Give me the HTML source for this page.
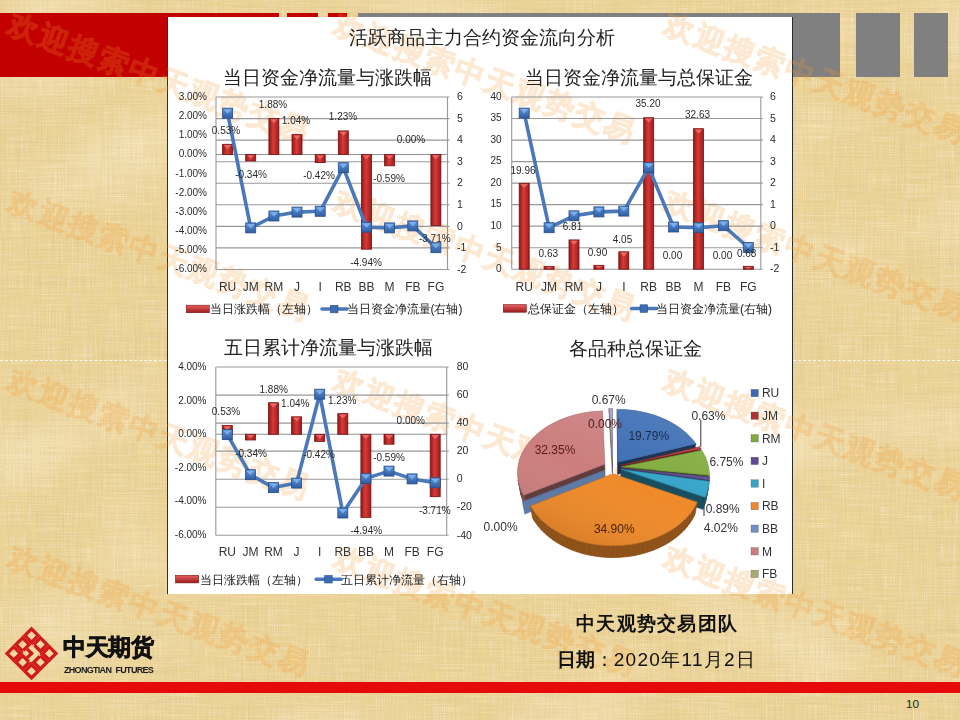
<!DOCTYPE html>
<html><head><meta charset="utf-8">
<style>
html,body{margin:0;padding:0;}
body{width:960px;height:720px;position:relative;overflow:hidden;background:#ebd295;font-family:"Liberation Sans",sans-serif;}
.abs{position:absolute;}
.red{background:#c20000;}
.gray{background:#808080;}
#panel{position:absolute;left:167px;top:17px;width:626px;height:577px;background:#fff;border-left:1px solid #3a2a22;border-right:1px solid #2a2a2a;box-sizing:border-box;}
.t{position:absolute;white-space:nowrap;color:#222;}
svg text{font-family:"Liberation Sans",sans-serif;}
</style></head><body>
<svg class="abs" style="left:0;top:0" width="960" height="720">
<filter id="tex" x="0" y="0" width="100%" height="100%">
<feTurbulence type="fractalNoise" baseFrequency="0.7 0.01" numOctaves="2" seed="3" result="v"/>
<feTurbulence type="fractalNoise" baseFrequency="0.01 0.7" numOctaves="2" seed="8" result="h"/>
<feComposite in="v" in2="h" operator="arithmetic" k2="0.5" k3="0.5" result="m"/>
<feColorMatrix in="m" type="matrix" values="0 0 0 0 0.66  0 0 0 0 0.52  0 0 0 0 0.26  1.5 0 0 0 -0.70"/>
</filter>
<filter id="texl" x="0" y="0" width="100%" height="100%">
<feTurbulence type="fractalNoise" baseFrequency="0.9 0.03" numOctaves="1" seed="21" result="v"/>
<feTurbulence type="fractalNoise" baseFrequency="0.03 0.9" numOctaves="1" seed="23" result="h"/>
<feComposite in="v" in2="h" operator="arithmetic" k2="0.5" k3="0.5" result="m"/>
<feColorMatrix in="m" type="matrix" values="0 0 0 0 1  0 0 0 0 0.96  0 0 0 0 0.82  1.6 0 0 0 -0.78"/>
</filter>
<filter id="tex2" x="0" y="0" width="100%" height="100%">
<feTurbulence type="fractalNoise" baseFrequency="0.006 0.01" numOctaves="2" seed="11" result="n"/>
<feColorMatrix in="n" type="matrix" values="0 0 0 0 1  0 0 0 0 0.95  0 0 0 0 0.8  1.0 0 0 0 -0.5"/>
</filter>
<rect width="960" height="720" filter="url(#tex2)"/>
<rect width="960" height="720" filter="url(#tex)"/>
<rect width="960" height="720" filter="url(#texl)"/>
</svg>
<div class="abs red" style="left:0;top:13px;width:279px;height:64px"></div>
<div class="abs red" style="left:287px;top:13px;width:31px;height:64px"></div>
<div class="abs red" style="left:328px;top:13px;width:19px;height:64px"></div>
<div class="abs gray" style="left:358px;top:13px;width:482px;height:64px"></div>
<div class="abs gray" style="left:856px;top:13px;width:44px;height:64px"></div>
<div class="abs gray" style="left:914px;top:13px;width:34px;height:64px"></div>
<div class="abs" style="left:0;top:360px;width:167px;border-top:1px dashed rgba(255,255,255,0.85)"></div>
<div class="abs" style="left:793px;top:360px;width:167px;border-top:1px dashed rgba(255,255,255,0.85)"></div>
<div class="abs" style="left:0;top:682px;width:960px;height:11px;background:#e60a0a"></div>
<div class="t" style="left:906px;top:696.5px;font-size:11.8px;color:#2a2218">10</div>

<div id="panel"></div>
<svg class="abs" style="left:0;top:0" width="960" height="720"><g opacity="0.22" fill="#f5982e" stroke="#f5982e" stroke-width="0.9" font-weight="bold">
<text x="9.0" y="38.4" transform="rotate(20.3 24 27)" font-size="30" letter-spacing="2">欢迎搜索中天观势交易</text>
<text x="335.0" y="38.4" transform="rotate(20.3 350 27)" font-size="30" letter-spacing="2">欢迎搜索中天观势交易</text>
<text x="665.0" y="38.4" transform="rotate(20.3 680 27)" font-size="30" letter-spacing="2">欢迎搜索中天观势交易</text>
<text x="9.0" y="215.4" transform="rotate(20.3 24 204)" font-size="30" letter-spacing="2">欢迎搜索中天观势交易</text>
<text x="335.0" y="215.4" transform="rotate(20.3 350 204)" font-size="30" letter-spacing="2">欢迎搜索中天观势交易</text>
<text x="665.0" y="215.4" transform="rotate(20.3 680 204)" font-size="30" letter-spacing="2">欢迎搜索中天观势交易</text>
<text x="9.0" y="394.4" transform="rotate(20.3 24 383)" font-size="30" letter-spacing="2">欢迎搜索中天观势交易</text>
<text x="335.0" y="394.4" transform="rotate(20.3 350 383)" font-size="30" letter-spacing="2">欢迎搜索中天观势交易</text>
<text x="665.0" y="394.4" transform="rotate(20.3 680 383)" font-size="30" letter-spacing="2">欢迎搜索中天观势交易</text>
<text x="9.0" y="571.4" transform="rotate(20.3 24 560)" font-size="30" letter-spacing="2">欢迎搜索中天观势交易</text>
<text x="335.0" y="571.4" transform="rotate(20.3 350 560)" font-size="30" letter-spacing="2">欢迎搜索中天观势交易</text>
<text x="665.0" y="571.4" transform="rotate(20.3 680 560)" font-size="30" letter-spacing="2">欢迎搜索中天观势交易</text>
</g></svg>
<svg class="abs" style="left:0;top:0" width="960" height="720" viewBox="0 0 960 720">
<defs>
<linearGradient id="gbar" x1="0" x2="1" y1="0" y2="0"><stop offset="0" stop-color="#8e1a1a"/><stop offset="0.45" stop-color="#d83a36"/><stop offset="1" stop-color="#9a1c1c"/></linearGradient>
<linearGradient id="gleg" x1="0" x2="0" y1="0" y2="1"><stop offset="0" stop-color="#e86060"/><stop offset="1" stop-color="#9a1c1c"/></linearGradient>
<linearGradient id="gmk" x1="0" x2="0" y1="0" y2="1"><stop offset="0" stop-color="#5a90d8"/><stop offset="1" stop-color="#2f5fa4"/></linearGradient>
</defs>
<line x1="216" y1="97.0" x2="449.5" y2="97.0" stroke="#989898" stroke-width="1.1"/>
<line x1="216" y1="118.6" x2="449.5" y2="118.6" stroke="#989898" stroke-width="1.1"/>
<line x1="216" y1="140.1" x2="449.5" y2="140.1" stroke="#989898" stroke-width="1.1"/>
<line x1="216" y1="161.7" x2="449.5" y2="161.7" stroke="#989898" stroke-width="1.1"/>
<line x1="216" y1="183.2" x2="449.5" y2="183.2" stroke="#989898" stroke-width="1.1"/>
<line x1="216" y1="204.8" x2="449.5" y2="204.8" stroke="#989898" stroke-width="1.1"/>
<line x1="216" y1="226.4" x2="449.5" y2="226.4" stroke="#989898" stroke-width="1.1"/>
<line x1="216" y1="247.9" x2="449.5" y2="247.9" stroke="#989898" stroke-width="1.1"/>
<line x1="216" y1="269.5" x2="449.5" y2="269.5" stroke="#989898" stroke-width="1.1"/>
<line x1="216" y1="97" x2="216" y2="269.5" stroke="#989898" stroke-width="1.1"/>
<line x1="447.5" y1="97" x2="447.5" y2="269.5" stroke="#989898" stroke-width="1.1"/>
<text x="207.0" y="99.8" font-size="10" text-anchor="end" fill="#2a2a2a" font-weight="normal" >3.00%</text>
<text x="207.0" y="119.0" font-size="10" text-anchor="end" fill="#2a2a2a" font-weight="normal" >2.00%</text>
<text x="207.0" y="138.1" font-size="10" text-anchor="end" fill="#2a2a2a" font-weight="normal" >1.00%</text>
<text x="207.0" y="157.3" font-size="10" text-anchor="end" fill="#2a2a2a" font-weight="normal" >0.00%</text>
<text x="207.0" y="176.5" font-size="10" text-anchor="end" fill="#2a2a2a" font-weight="normal" >-1.00%</text>
<text x="207.0" y="195.6" font-size="10" text-anchor="end" fill="#2a2a2a" font-weight="normal" >-2.00%</text>
<text x="207.0" y="214.8" font-size="10" text-anchor="end" fill="#2a2a2a" font-weight="normal" >-3.00%</text>
<text x="207.0" y="234.0" font-size="10" text-anchor="end" fill="#2a2a2a" font-weight="normal" >-4.00%</text>
<text x="207.0" y="253.1" font-size="10" text-anchor="end" fill="#2a2a2a" font-weight="normal" >-5.00%</text>
<text x="207.0" y="272.3" font-size="10" text-anchor="end" fill="#2a2a2a" font-weight="normal" >-6.00%</text>
<text x="457.0" y="100.2" font-size="10.5" text-anchor="start" fill="#2a2a2a" font-weight="normal" >6</text>
<text x="457.0" y="121.8" font-size="10.5" text-anchor="start" fill="#2a2a2a" font-weight="normal" >5</text>
<text x="457.0" y="143.3" font-size="10.5" text-anchor="start" fill="#2a2a2a" font-weight="normal" >4</text>
<text x="457.0" y="164.9" font-size="10.5" text-anchor="start" fill="#2a2a2a" font-weight="normal" >3</text>
<text x="457.0" y="186.4" font-size="10.5" text-anchor="start" fill="#2a2a2a" font-weight="normal" >2</text>
<text x="457.0" y="208.0" font-size="10.5" text-anchor="start" fill="#2a2a2a" font-weight="normal" >1</text>
<text x="457.0" y="229.6" font-size="10.5" text-anchor="start" fill="#2a2a2a" font-weight="normal" >0</text>
<text x="457.0" y="251.1" font-size="10.5" text-anchor="start" fill="#2a2a2a" font-weight="normal" >-1</text>
<text x="457.0" y="272.7" font-size="10.5" text-anchor="start" fill="#2a2a2a" font-weight="normal" >-2</text>
<line x1="216" y1="154.5" x2="447.5" y2="154.5" stroke="#909090" stroke-width="1.1"/>
<rect x="222.6" y="144.3" width="10" height="10.2" fill="url(#gbar)" stroke="#7a1010" stroke-width="0.8"/>
<path d="M223.6 145.1 L231.6 145.1 L227.6 149.1Z" fill="#f07070" opacity="0.85"/>
<rect x="245.7" y="154.5" width="10" height="6.5" fill="url(#gbar)" stroke="#7a1010" stroke-width="0.8"/>
<path d="M246.7 155.3 L254.7 155.3 L250.7 158.6Z" fill="#f07070" opacity="0.85"/>
<rect x="268.9" y="118.5" width="10" height="36.0" fill="url(#gbar)" stroke="#7a1010" stroke-width="0.8"/>
<path d="M269.9 119.3 L277.9 119.3 L273.9 123.3Z" fill="#f07070" opacity="0.85"/>
<rect x="292.0" y="134.6" width="10" height="19.9" fill="url(#gbar)" stroke="#7a1010" stroke-width="0.8"/>
<path d="M293.0 135.4 L301.0 135.4 L297.0 139.4Z" fill="#f07070" opacity="0.85"/>
<rect x="315.2" y="154.5" width="10" height="8.1" fill="url(#gbar)" stroke="#7a1010" stroke-width="0.8"/>
<path d="M316.2 155.3 L324.2 155.3 L320.2 159.3Z" fill="#f07070" opacity="0.85"/>
<rect x="338.3" y="130.9" width="10" height="23.6" fill="url(#gbar)" stroke="#7a1010" stroke-width="0.8"/>
<path d="M339.3 131.7 L347.3 131.7 L343.3 135.7Z" fill="#f07070" opacity="0.85"/>
<rect x="361.5" y="154.5" width="10" height="94.7" fill="url(#gbar)" stroke="#7a1010" stroke-width="0.8"/>
<path d="M362.5 155.3 L370.5 155.3 L366.5 159.3Z" fill="#f07070" opacity="0.85"/>
<rect x="384.6" y="154.5" width="10" height="11.3" fill="url(#gbar)" stroke="#7a1010" stroke-width="0.8"/>
<path d="M385.6 155.3 L393.6 155.3 L389.6 159.3Z" fill="#f07070" opacity="0.85"/>
<rect x="430.9" y="154.5" width="10" height="71.1" fill="url(#gbar)" stroke="#7a1010" stroke-width="0.8"/>
<path d="M431.9 155.3 L439.9 155.3 L435.9 159.3Z" fill="#f07070" opacity="0.85"/>
<path d="M227.6 113.2 L250.7 227.9 L273.9 216.0 L297.0 212.1 L320.2 211.3 L343.3 167.7 L366.5 227.2 L389.6 227.9 L412.8 225.9 L435.9 247.7" fill="none" stroke="#4a78b8" stroke-width="3.6" stroke-linejoin="round"/>
<rect x="222.6" y="108.2" width="10" height="10" fill="url(#gmk)" stroke="#284c84" stroke-width="0.8"/>
<path d="M223.6 109.2 L231.6 109.2 L227.6 113.7Z" fill="#7fb2ee" opacity="0.9"/>
<rect x="245.7" y="222.9" width="10" height="10" fill="url(#gmk)" stroke="#284c84" stroke-width="0.8"/>
<path d="M246.7 223.9 L254.7 223.9 L250.7 228.4Z" fill="#7fb2ee" opacity="0.9"/>
<rect x="268.9" y="211.0" width="10" height="10" fill="url(#gmk)" stroke="#284c84" stroke-width="0.8"/>
<path d="M269.9 212.0 L277.9 212.0 L273.9 216.5Z" fill="#7fb2ee" opacity="0.9"/>
<rect x="292.0" y="207.1" width="10" height="10" fill="url(#gmk)" stroke="#284c84" stroke-width="0.8"/>
<path d="M293.0 208.1 L301.0 208.1 L297.0 212.6Z" fill="#7fb2ee" opacity="0.9"/>
<rect x="315.2" y="206.3" width="10" height="10" fill="url(#gmk)" stroke="#284c84" stroke-width="0.8"/>
<path d="M316.2 207.3 L324.2 207.3 L320.2 211.8Z" fill="#7fb2ee" opacity="0.9"/>
<rect x="338.3" y="162.7" width="10" height="10" fill="url(#gmk)" stroke="#284c84" stroke-width="0.8"/>
<path d="M339.3 163.7 L347.3 163.7 L343.3 168.2Z" fill="#7fb2ee" opacity="0.9"/>
<rect x="361.5" y="222.2" width="10" height="10" fill="url(#gmk)" stroke="#284c84" stroke-width="0.8"/>
<path d="M362.5 223.2 L370.5 223.2 L366.5 227.7Z" fill="#7fb2ee" opacity="0.9"/>
<rect x="384.6" y="222.9" width="10" height="10" fill="url(#gmk)" stroke="#284c84" stroke-width="0.8"/>
<path d="M385.6 223.9 L393.6 223.9 L389.6 228.4Z" fill="#7fb2ee" opacity="0.9"/>
<rect x="407.8" y="220.9" width="10" height="10" fill="url(#gmk)" stroke="#284c84" stroke-width="0.8"/>
<path d="M408.8 221.9 L416.8 221.9 L412.8 226.4Z" fill="#7fb2ee" opacity="0.9"/>
<rect x="430.9" y="242.7" width="10" height="10" fill="url(#gmk)" stroke="#284c84" stroke-width="0.8"/>
<path d="M431.9 243.7 L439.9 243.7 L435.9 248.2Z" fill="#7fb2ee" opacity="0.9"/>
<text x="227.6" y="290.6" font-size="12" text-anchor="middle" fill="#333" font-weight="normal" >RU</text>
<text x="250.7" y="290.6" font-size="12" text-anchor="middle" fill="#333" font-weight="normal" >JM</text>
<text x="273.9" y="290.6" font-size="12" text-anchor="middle" fill="#333" font-weight="normal" >RM</text>
<text x="297.0" y="290.6" font-size="12" text-anchor="middle" fill="#333" font-weight="normal" >J</text>
<text x="320.2" y="290.6" font-size="12" text-anchor="middle" fill="#333" font-weight="normal" >I</text>
<text x="343.3" y="290.6" font-size="12" text-anchor="middle" fill="#333" font-weight="normal" >RB</text>
<text x="366.5" y="290.6" font-size="12" text-anchor="middle" fill="#333" font-weight="normal" >BB</text>
<text x="389.6" y="290.6" font-size="12" text-anchor="middle" fill="#333" font-weight="normal" >M</text>
<text x="412.8" y="290.6" font-size="12" text-anchor="middle" fill="#333" font-weight="normal" >FB</text>
<text x="435.9" y="290.6" font-size="12" text-anchor="middle" fill="#333" font-weight="normal" >FG</text>
<text x="226.0" y="134.2" font-size="10" text-anchor="middle" fill="#2a2a2a" font-weight="normal" >0.53%</text>
<text x="251.0" y="178.2" font-size="10" text-anchor="middle" fill="#2a2a2a" font-weight="normal" >-0.34%</text>
<text x="273.0" y="107.7" font-size="10" text-anchor="middle" fill="#2a2a2a" font-weight="normal" >1.88%</text>
<text x="296.0" y="124.2" font-size="10" text-anchor="middle" fill="#2a2a2a" font-weight="normal" >1.04%</text>
<text x="319.0" y="178.9" font-size="10" text-anchor="middle" fill="#2a2a2a" font-weight="normal" >-0.42%</text>
<text x="343.0" y="120.2" font-size="10" text-anchor="middle" fill="#2a2a2a" font-weight="normal" >1.23%</text>
<text x="366.0" y="266.0" font-size="10" text-anchor="middle" fill="#2a2a2a" font-weight="normal" >-4.94%</text>
<text x="389.0" y="182.2" font-size="10" text-anchor="middle" fill="#2a2a2a" font-weight="normal" >-0.59%</text>
<text x="411.0" y="143.2" font-size="10" text-anchor="middle" fill="#2a2a2a" font-weight="normal" >0.00%</text>
<text x="434.8" y="242.2" font-size="10" text-anchor="middle" fill="#2a2a2a" font-weight="normal" >-3.71%</text>
<rect x="186.3" y="305.2" width="23" height="7.5" fill="url(#gleg)" stroke="#7a1010" stroke-width="0.6"/>
<line x1="322" y1="309.0" x2="347" y2="309.0" stroke="#4a78b8" stroke-width="3.6" stroke-linecap="round"/>
<rect x="330.5" y="305.3" width="7.5" height="7.5" fill="#3d6cb5" stroke="#284c84" stroke-width="0.6"/>
<text x="210.3" y="313.3" font-size="12" text-anchor="start" fill="#222" font-weight="500" >当日涨跌幅（左轴）</text>
<text x="346.5" y="313.3" font-size="12" text-anchor="start" fill="#222" font-weight="500" >当日资金净流量(右轴)</text>
<line x1="511.7" y1="97.0" x2="762.8" y2="97.0" stroke="#989898" stroke-width="1.1"/>
<line x1="511.7" y1="118.5" x2="762.8" y2="118.5" stroke="#989898" stroke-width="1.1"/>
<line x1="511.7" y1="140.1" x2="762.8" y2="140.1" stroke="#989898" stroke-width="1.1"/>
<line x1="511.7" y1="161.6" x2="762.8" y2="161.6" stroke="#989898" stroke-width="1.1"/>
<line x1="511.7" y1="183.1" x2="762.8" y2="183.1" stroke="#989898" stroke-width="1.1"/>
<line x1="511.7" y1="204.6" x2="762.8" y2="204.6" stroke="#989898" stroke-width="1.1"/>
<line x1="511.7" y1="226.1" x2="762.8" y2="226.1" stroke="#989898" stroke-width="1.1"/>
<line x1="511.7" y1="247.7" x2="762.8" y2="247.7" stroke="#989898" stroke-width="1.1"/>
<line x1="511.7" y1="269.2" x2="762.8" y2="269.2" stroke="#989898" stroke-width="1.1"/>
<line x1="511.7" y1="97" x2="511.7" y2="269.2" stroke="#989898" stroke-width="1.1"/>
<line x1="760.8" y1="97" x2="760.8" y2="269.2" stroke="#989898" stroke-width="1.1"/>
<text x="501.5" y="99.8" font-size="10" text-anchor="end" fill="#2a2a2a" font-weight="normal" >40</text>
<text x="501.5" y="121.3" font-size="10" text-anchor="end" fill="#2a2a2a" font-weight="normal" >35</text>
<text x="501.5" y="142.9" font-size="10" text-anchor="end" fill="#2a2a2a" font-weight="normal" >30</text>
<text x="501.5" y="164.4" font-size="10" text-anchor="end" fill="#2a2a2a" font-weight="normal" >25</text>
<text x="501.5" y="185.9" font-size="10" text-anchor="end" fill="#2a2a2a" font-weight="normal" >20</text>
<text x="501.5" y="207.4" font-size="10" text-anchor="end" fill="#2a2a2a" font-weight="normal" >15</text>
<text x="501.5" y="228.9" font-size="10" text-anchor="end" fill="#2a2a2a" font-weight="normal" >10</text>
<text x="501.5" y="250.5" font-size="10" text-anchor="end" fill="#2a2a2a" font-weight="normal" >5</text>
<text x="501.5" y="272.0" font-size="10" text-anchor="end" fill="#2a2a2a" font-weight="normal" >0</text>
<text x="770.0" y="100.2" font-size="10.5" text-anchor="start" fill="#2a2a2a" font-weight="normal" >6</text>
<text x="770.0" y="121.7" font-size="10.5" text-anchor="start" fill="#2a2a2a" font-weight="normal" >5</text>
<text x="770.0" y="143.2" font-size="10.5" text-anchor="start" fill="#2a2a2a" font-weight="normal" >4</text>
<text x="770.0" y="164.8" font-size="10.5" text-anchor="start" fill="#2a2a2a" font-weight="normal" >3</text>
<text x="770.0" y="186.3" font-size="10.5" text-anchor="start" fill="#2a2a2a" font-weight="normal" >2</text>
<text x="770.0" y="207.8" font-size="10.5" text-anchor="start" fill="#2a2a2a" font-weight="normal" >1</text>
<text x="770.0" y="229.3" font-size="10.5" text-anchor="start" fill="#2a2a2a" font-weight="normal" >0</text>
<text x="770.0" y="250.9" font-size="10.5" text-anchor="start" fill="#2a2a2a" font-weight="normal" >-1</text>
<text x="770.0" y="272.4" font-size="10.5" text-anchor="start" fill="#2a2a2a" font-weight="normal" >-2</text>
<rect x="519.2" y="183.3" width="10" height="85.9" fill="url(#gbar)" stroke="#7a1010" stroke-width="0.8"/>
<path d="M520.2 184.1 L528.2 184.1 L524.2 188.1Z" fill="#f07070" opacity="0.85"/>
<rect x="544.1" y="266.5" width="10" height="2.7" fill="url(#gbar)" stroke="#7a1010" stroke-width="0.8"/>
<path d="M545.1 267.3 L553.1 267.3 L549.1 268.6Z" fill="#f07070" opacity="0.85"/>
<rect x="569.0" y="239.9" width="10" height="29.3" fill="url(#gbar)" stroke="#7a1010" stroke-width="0.8"/>
<path d="M570.0 240.7 L578.0 240.7 L574.0 244.7Z" fill="#f07070" opacity="0.85"/>
<rect x="593.9" y="265.3" width="10" height="3.9" fill="url(#gbar)" stroke="#7a1010" stroke-width="0.8"/>
<path d="M594.9 266.1 L602.9 266.1 L598.9 268.1Z" fill="#f07070" opacity="0.85"/>
<rect x="618.8" y="251.8" width="10" height="17.4" fill="url(#gbar)" stroke="#7a1010" stroke-width="0.8"/>
<path d="M619.8 252.6 L627.8 252.6 L623.8 256.6Z" fill="#f07070" opacity="0.85"/>
<rect x="643.7" y="117.7" width="10" height="151.5" fill="url(#gbar)" stroke="#7a1010" stroke-width="0.8"/>
<path d="M644.7 118.5 L652.7 118.5 L648.7 122.5Z" fill="#f07070" opacity="0.85"/>
<rect x="693.5" y="128.7" width="10" height="140.5" fill="url(#gbar)" stroke="#7a1010" stroke-width="0.8"/>
<path d="M694.5 129.5 L702.5 129.5 L698.5 133.5Z" fill="#f07070" opacity="0.85"/>
<rect x="743.3" y="266.3" width="10" height="2.9" fill="url(#gbar)" stroke="#7a1010" stroke-width="0.8"/>
<path d="M744.3 267.1 L752.3 267.1 L748.3 268.5Z" fill="#f07070" opacity="0.85"/>
<path d="M524.2 113.1 L549.1 227.7 L574.0 215.8 L598.9 211.9 L623.8 211.1 L648.7 167.6 L673.6 227.0 L698.5 227.7 L723.4 225.7 L748.3 247.5" fill="none" stroke="#4a78b8" stroke-width="3.6" stroke-linejoin="round"/>
<rect x="519.2" y="108.1" width="10" height="10" fill="url(#gmk)" stroke="#284c84" stroke-width="0.8"/>
<path d="M520.2 109.1 L528.2 109.1 L524.2 113.6Z" fill="#7fb2ee" opacity="0.9"/>
<rect x="544.1" y="222.7" width="10" height="10" fill="url(#gmk)" stroke="#284c84" stroke-width="0.8"/>
<path d="M545.1 223.7 L553.1 223.7 L549.1 228.2Z" fill="#7fb2ee" opacity="0.9"/>
<rect x="569.0" y="210.8" width="10" height="10" fill="url(#gmk)" stroke="#284c84" stroke-width="0.8"/>
<path d="M570.0 211.8 L578.0 211.8 L574.0 216.3Z" fill="#7fb2ee" opacity="0.9"/>
<rect x="593.9" y="206.9" width="10" height="10" fill="url(#gmk)" stroke="#284c84" stroke-width="0.8"/>
<path d="M594.9 207.9 L602.9 207.9 L598.9 212.4Z" fill="#7fb2ee" opacity="0.9"/>
<rect x="618.8" y="206.1" width="10" height="10" fill="url(#gmk)" stroke="#284c84" stroke-width="0.8"/>
<path d="M619.8 207.1 L627.8 207.1 L623.8 211.6Z" fill="#7fb2ee" opacity="0.9"/>
<rect x="643.7" y="162.6" width="10" height="10" fill="url(#gmk)" stroke="#284c84" stroke-width="0.8"/>
<path d="M644.7 163.6 L652.7 163.6 L648.7 168.1Z" fill="#7fb2ee" opacity="0.9"/>
<rect x="668.6" y="222.0" width="10" height="10" fill="url(#gmk)" stroke="#284c84" stroke-width="0.8"/>
<path d="M669.6 223.0 L677.6 223.0 L673.6 227.5Z" fill="#7fb2ee" opacity="0.9"/>
<rect x="693.5" y="222.7" width="10" height="10" fill="url(#gmk)" stroke="#284c84" stroke-width="0.8"/>
<path d="M694.5 223.7 L702.5 223.7 L698.5 228.2Z" fill="#7fb2ee" opacity="0.9"/>
<rect x="718.4" y="220.7" width="10" height="10" fill="url(#gmk)" stroke="#284c84" stroke-width="0.8"/>
<path d="M719.4 221.7 L727.4 221.7 L723.4 226.2Z" fill="#7fb2ee" opacity="0.9"/>
<rect x="743.3" y="242.5" width="10" height="10" fill="url(#gmk)" stroke="#284c84" stroke-width="0.8"/>
<path d="M744.3 243.5 L752.3 243.5 L748.3 248.0Z" fill="#7fb2ee" opacity="0.9"/>
<text x="524.2" y="290.7" font-size="12" text-anchor="middle" fill="#333" font-weight="normal" >RU</text>
<text x="549.1" y="290.7" font-size="12" text-anchor="middle" fill="#333" font-weight="normal" >JM</text>
<text x="574.0" y="290.7" font-size="12" text-anchor="middle" fill="#333" font-weight="normal" >RM</text>
<text x="598.9" y="290.7" font-size="12" text-anchor="middle" fill="#333" font-weight="normal" >J</text>
<text x="623.8" y="290.7" font-size="12" text-anchor="middle" fill="#333" font-weight="normal" >I</text>
<text x="648.7" y="290.7" font-size="12" text-anchor="middle" fill="#333" font-weight="normal" >RB</text>
<text x="673.6" y="290.7" font-size="12" text-anchor="middle" fill="#333" font-weight="normal" >BB</text>
<text x="698.5" y="290.7" font-size="12" text-anchor="middle" fill="#333" font-weight="normal" >M</text>
<text x="723.4" y="290.7" font-size="12" text-anchor="middle" fill="#333" font-weight="normal" >FB</text>
<text x="748.3" y="290.7" font-size="12" text-anchor="middle" fill="#333" font-weight="normal" >FG</text>
<text x="523.0" y="173.5" font-size="10" text-anchor="middle" fill="#2a2a2a" font-weight="normal" >19.96</text>
<text x="548.3" y="256.9" font-size="10" text-anchor="middle" fill="#2a2a2a" font-weight="normal" >0.63</text>
<text x="572.5" y="229.9" font-size="10" text-anchor="middle" fill="#2a2a2a" font-weight="normal" >6.81</text>
<text x="597.5" y="255.7" font-size="10" text-anchor="middle" fill="#2a2a2a" font-weight="normal" >0.90</text>
<text x="622.5" y="242.7" font-size="10" text-anchor="middle" fill="#2a2a2a" font-weight="normal" >4.05</text>
<text x="648.0" y="107.2" font-size="10" text-anchor="middle" fill="#2a2a2a" font-weight="normal" >35.20</text>
<text x="672.5" y="259.0" font-size="10" text-anchor="middle" fill="#2a2a2a" font-weight="normal" >0.00</text>
<text x="697.5" y="117.9" font-size="10" text-anchor="middle" fill="#2a2a2a" font-weight="normal" >32.63</text>
<text x="722.5" y="259.0" font-size="10" text-anchor="middle" fill="#2a2a2a" font-weight="normal" >0.00</text>
<text x="746.7" y="256.9" font-size="10" text-anchor="middle" fill="#2a2a2a" font-weight="normal" >0.68</text>
<rect x="503.3" y="304.7" width="23" height="7.5" fill="url(#gleg)" stroke="#7a1010" stroke-width="0.6"/>
<line x1="631.6" y1="308.5" x2="656.6" y2="308.5" stroke="#4a78b8" stroke-width="3.6" stroke-linecap="round"/>
<rect x="640.1" y="304.8" width="7.5" height="7.5" fill="#3d6cb5" stroke="#284c84" stroke-width="0.6"/>
<text x="527.7" y="312.8" font-size="12" text-anchor="start" fill="#222" font-weight="500" >总保证金（左轴）</text>
<text x="656.1" y="312.8" font-size="12" text-anchor="start" fill="#222" font-weight="500" >当日资金净流量(右轴)</text>
<line x1="215.8" y1="367.0" x2="448.7" y2="367.0" stroke="#989898" stroke-width="1.1"/>
<line x1="215.8" y1="395.1" x2="448.7" y2="395.1" stroke="#989898" stroke-width="1.1"/>
<line x1="215.8" y1="423.1" x2="448.7" y2="423.1" stroke="#989898" stroke-width="1.1"/>
<line x1="215.8" y1="451.1" x2="448.7" y2="451.1" stroke="#989898" stroke-width="1.1"/>
<line x1="215.8" y1="479.2" x2="448.7" y2="479.2" stroke="#989898" stroke-width="1.1"/>
<line x1="215.8" y1="507.2" x2="448.7" y2="507.2" stroke="#989898" stroke-width="1.1"/>
<line x1="215.8" y1="535.3" x2="448.7" y2="535.3" stroke="#989898" stroke-width="1.1"/>
<line x1="215.8" y1="367" x2="215.8" y2="535.3" stroke="#989898" stroke-width="1.1"/>
<line x1="446.7" y1="367" x2="446.7" y2="535.3" stroke="#989898" stroke-width="1.1"/>
<text x="206.5" y="369.8" font-size="10" text-anchor="end" fill="#2a2a2a" font-weight="normal" >4.00%</text>
<text x="206.5" y="403.5" font-size="10" text-anchor="end" fill="#2a2a2a" font-weight="normal" >2.00%</text>
<text x="206.5" y="437.1" font-size="10" text-anchor="end" fill="#2a2a2a" font-weight="normal" >0.00%</text>
<text x="206.5" y="470.8" font-size="10" text-anchor="end" fill="#2a2a2a" font-weight="normal" >-2.00%</text>
<text x="206.5" y="504.4" font-size="10" text-anchor="end" fill="#2a2a2a" font-weight="normal" >-4.00%</text>
<text x="206.5" y="538.1" font-size="10" text-anchor="end" fill="#2a2a2a" font-weight="normal" >-6.00%</text>
<text x="456.7" y="370.2" font-size="10.5" text-anchor="start" fill="#2a2a2a" font-weight="normal" >80</text>
<text x="456.7" y="398.2" font-size="10.5" text-anchor="start" fill="#2a2a2a" font-weight="normal" >60</text>
<text x="456.7" y="426.3" font-size="10.5" text-anchor="start" fill="#2a2a2a" font-weight="normal" >40</text>
<text x="456.7" y="454.3" font-size="10.5" text-anchor="start" fill="#2a2a2a" font-weight="normal" >20</text>
<text x="456.7" y="482.4" font-size="10.5" text-anchor="start" fill="#2a2a2a" font-weight="normal" >0</text>
<text x="456.7" y="510.4" font-size="10.5" text-anchor="start" fill="#2a2a2a" font-weight="normal" >-20</text>
<text x="456.7" y="538.5" font-size="10.5" text-anchor="start" fill="#2a2a2a" font-weight="normal" >-40</text>
<line x1="215.8" y1="434.3" x2="446.7" y2="434.3" stroke="#909090" stroke-width="1.1"/>
<rect x="222.3" y="425.4" width="10" height="8.9" fill="url(#gbar)" stroke="#7a1010" stroke-width="0.8"/>
<path d="M223.3 426.2 L231.3 426.2 L227.3 430.2Z" fill="#f07070" opacity="0.85"/>
<rect x="245.4" y="434.3" width="10" height="5.7" fill="url(#gbar)" stroke="#7a1010" stroke-width="0.8"/>
<path d="M246.4 435.1 L254.4 435.1 L250.4 438.0Z" fill="#f07070" opacity="0.85"/>
<rect x="268.5" y="402.7" width="10" height="31.6" fill="url(#gbar)" stroke="#7a1010" stroke-width="0.8"/>
<path d="M269.5 403.5 L277.5 403.5 L273.5 407.5Z" fill="#f07070" opacity="0.85"/>
<rect x="291.6" y="416.8" width="10" height="17.5" fill="url(#gbar)" stroke="#7a1010" stroke-width="0.8"/>
<path d="M292.6 417.6 L300.6 417.6 L296.6 421.6Z" fill="#f07070" opacity="0.85"/>
<rect x="314.7" y="434.3" width="10" height="7.1" fill="url(#gbar)" stroke="#7a1010" stroke-width="0.8"/>
<path d="M315.7 435.1 L323.7 435.1 L319.7 438.7Z" fill="#f07070" opacity="0.85"/>
<rect x="337.8" y="413.6" width="10" height="20.7" fill="url(#gbar)" stroke="#7a1010" stroke-width="0.8"/>
<path d="M338.8 414.4 L346.8 414.4 L342.8 418.4Z" fill="#f07070" opacity="0.85"/>
<rect x="360.9" y="434.3" width="10" height="83.1" fill="url(#gbar)" stroke="#7a1010" stroke-width="0.8"/>
<path d="M361.9 435.1 L369.9 435.1 L365.9 439.1Z" fill="#f07070" opacity="0.85"/>
<rect x="384.0" y="434.3" width="10" height="9.9" fill="url(#gbar)" stroke="#7a1010" stroke-width="0.8"/>
<path d="M385.0 435.1 L393.0 435.1 L389.0 439.1Z" fill="#f07070" opacity="0.85"/>
<rect x="430.2" y="434.3" width="10" height="62.4" fill="url(#gbar)" stroke="#7a1010" stroke-width="0.8"/>
<path d="M431.2 435.1 L439.2 435.1 L435.2 439.1Z" fill="#f07070" opacity="0.85"/>
<path d="M227.3 434.6 L250.4 474.7 L273.5 487.6 L296.6 483.1 L319.7 394.2 L342.8 513.0 L365.9 478.4 L389.0 471.1 L412.1 478.9 L435.2 482.8" fill="none" stroke="#4a78b8" stroke-width="3.6" stroke-linejoin="round"/>
<rect x="222.3" y="429.6" width="10" height="10" fill="url(#gmk)" stroke="#284c84" stroke-width="0.8"/>
<path d="M223.3 430.6 L231.3 430.6 L227.3 435.1Z" fill="#7fb2ee" opacity="0.9"/>
<rect x="245.4" y="469.7" width="10" height="10" fill="url(#gmk)" stroke="#284c84" stroke-width="0.8"/>
<path d="M246.4 470.7 L254.4 470.7 L250.4 475.2Z" fill="#7fb2ee" opacity="0.9"/>
<rect x="268.5" y="482.6" width="10" height="10" fill="url(#gmk)" stroke="#284c84" stroke-width="0.8"/>
<path d="M269.5 483.6 L277.5 483.6 L273.5 488.1Z" fill="#7fb2ee" opacity="0.9"/>
<rect x="291.6" y="478.1" width="10" height="10" fill="url(#gmk)" stroke="#284c84" stroke-width="0.8"/>
<path d="M292.6 479.1 L300.6 479.1 L296.6 483.6Z" fill="#7fb2ee" opacity="0.9"/>
<rect x="314.7" y="389.2" width="10" height="10" fill="url(#gmk)" stroke="#284c84" stroke-width="0.8"/>
<path d="M315.7 390.2 L323.7 390.2 L319.7 394.7Z" fill="#7fb2ee" opacity="0.9"/>
<rect x="337.8" y="508.0" width="10" height="10" fill="url(#gmk)" stroke="#284c84" stroke-width="0.8"/>
<path d="M338.8 509.0 L346.8 509.0 L342.8 513.5Z" fill="#7fb2ee" opacity="0.9"/>
<rect x="360.9" y="473.4" width="10" height="10" fill="url(#gmk)" stroke="#284c84" stroke-width="0.8"/>
<path d="M361.9 474.4 L369.9 474.4 L365.9 478.9Z" fill="#7fb2ee" opacity="0.9"/>
<rect x="384.0" y="466.1" width="10" height="10" fill="url(#gmk)" stroke="#284c84" stroke-width="0.8"/>
<path d="M385.0 467.1 L393.0 467.1 L389.0 471.6Z" fill="#7fb2ee" opacity="0.9"/>
<rect x="407.1" y="473.9" width="10" height="10" fill="url(#gmk)" stroke="#284c84" stroke-width="0.8"/>
<path d="M408.1 474.9 L416.1 474.9 L412.1 479.4Z" fill="#7fb2ee" opacity="0.9"/>
<rect x="430.2" y="477.8" width="10" height="10" fill="url(#gmk)" stroke="#284c84" stroke-width="0.8"/>
<path d="M431.2 478.8 L439.2 478.8 L435.2 483.3Z" fill="#7fb2ee" opacity="0.9"/>
<text x="227.3" y="556.2" font-size="12" text-anchor="middle" fill="#333" font-weight="normal" >RU</text>
<text x="250.4" y="556.2" font-size="12" text-anchor="middle" fill="#333" font-weight="normal" >JM</text>
<text x="273.5" y="556.2" font-size="12" text-anchor="middle" fill="#333" font-weight="normal" >RM</text>
<text x="296.6" y="556.2" font-size="12" text-anchor="middle" fill="#333" font-weight="normal" >J</text>
<text x="319.7" y="556.2" font-size="12" text-anchor="middle" fill="#333" font-weight="normal" >I</text>
<text x="342.8" y="556.2" font-size="12" text-anchor="middle" fill="#333" font-weight="normal" >RB</text>
<text x="365.9" y="556.2" font-size="12" text-anchor="middle" fill="#333" font-weight="normal" >BB</text>
<text x="389.0" y="556.2" font-size="12" text-anchor="middle" fill="#333" font-weight="normal" >M</text>
<text x="412.1" y="556.2" font-size="12" text-anchor="middle" fill="#333" font-weight="normal" >FB</text>
<text x="435.2" y="556.2" font-size="12" text-anchor="middle" fill="#333" font-weight="normal" >FG</text>
<text x="226.0" y="415.4" font-size="10" text-anchor="middle" fill="#2a2a2a" font-weight="normal" >0.53%</text>
<text x="251.0" y="457.2" font-size="10" text-anchor="middle" fill="#2a2a2a" font-weight="normal" >-0.34%</text>
<text x="273.7" y="392.7" font-size="10" text-anchor="middle" fill="#2a2a2a" font-weight="normal" >1.88%</text>
<text x="295.3" y="406.5" font-size="10" text-anchor="middle" fill="#2a2a2a" font-weight="normal" >1.04%</text>
<text x="319.0" y="458.2" font-size="10" text-anchor="middle" fill="#2a2a2a" font-weight="normal" >-0.42%</text>
<text x="342.2" y="403.5" font-size="10" text-anchor="middle" fill="#2a2a2a" font-weight="normal" >1.23%</text>
<text x="366.3" y="534.2" font-size="10" text-anchor="middle" fill="#2a2a2a" font-weight="normal" >-4.94%</text>
<text x="389.0" y="460.7" font-size="10" text-anchor="middle" fill="#2a2a2a" font-weight="normal" >-0.59%</text>
<text x="410.8" y="424.0" font-size="10" text-anchor="middle" fill="#2a2a2a" font-weight="normal" >0.00%</text>
<text x="434.8" y="514.2" font-size="10" text-anchor="middle" fill="#2a2a2a" font-weight="normal" >-3.71%</text>
<rect x="175.6" y="575.4" width="23" height="7.5" fill="url(#gleg)" stroke="#7a1010" stroke-width="0.6"/>
<line x1="316.2" y1="579.2" x2="341.2" y2="579.2" stroke="#4a78b8" stroke-width="3.6" stroke-linecap="round"/>
<rect x="324.7" y="575.5" width="7.5" height="7.5" fill="#3d6cb5" stroke="#284c84" stroke-width="0.6"/>
<text x="200.3" y="583.5" font-size="12" text-anchor="start" fill="#222" font-weight="500" >当日涨跌幅（左轴）</text>
<text x="340.7" y="583.5" font-size="12" text-anchor="start" fill="#222" font-weight="500" >五日累计净流量（右轴）</text>
<defs><linearGradient id="pieShade" gradientUnits="userSpaceOnUse" x1="640" y1="405" x2="580" y2="550"><stop offset="0" stop-color="#fff" stop-opacity="0.10"/><stop offset="0.5" stop-color="#fff" stop-opacity="0"/><stop offset="1" stop-color="#000" stop-opacity="0.10"/></linearGradient></defs>
<path d="M612.4 408.5 L612.4 461.1 L612.4 473.2 L612.4 420.4Z" fill="#504a61" stroke="#504a61" stroke-width="0.4"/>
<path d="M612.4 461.1 L609.2 408.5 L609.3 420.4 L612.4 473.2Z" fill="#504a61" stroke="#504a61" stroke-width="0.4"/>
<path d="M612.4 461.1 L609.2 408.5 L610.8 408.5 L612.4 408.5Z" fill="#a89ccc" stroke="#867ca3" stroke-width="0.6"/>
<path d="M612.4 461.1 L609.2 408.5 L610.8 408.5 L612.4 408.5Z" fill="url(#pieShade)"/>
<path d="M612.2 461.1 L609.1 408.5 L609.1 408.5 L609.1 408.5Z" fill="#a8aa70" stroke="#868859" stroke-width="0.6"/>
<path d="M612.2 461.1 L609.1 408.5 L609.1 408.5 L609.1 408.5Z" fill="url(#pieShade)"/>
<path d="M617.8 462.2 L617.2 409.4 L617.1 421.3 L617.7 474.3Z" fill="#1c3456" stroke="#1c3456" stroke-width="0.4"/>
<path d="M695.9 443.8 L617.8 462.2 L617.7 474.3 L693.9 455.9Z" fill="#1c3456" stroke="#1c3456" stroke-width="0.4"/>
<path d="M617.8 462.2 L617.2 409.4 L621.0 409.5 L624.8 409.6 L628.6 409.9 L632.3 410.3 L636.1 410.8 L639.8 411.5 L643.4 412.2 L647.1 413.1 L650.7 414.1 L654.2 415.1 L657.6 416.3 L661.0 417.7 L664.4 419.1 L667.6 420.6 L670.7 422.2 L673.8 424.0 L676.7 425.8 L679.6 427.7 L682.3 429.8 L684.9 431.9 L687.4 434.1 L689.7 436.4 L691.9 438.8 L694.0 441.3 L695.9 443.8Z" fill="#3c6db4" stroke="#305790" stroke-width="0.6"/>
<path d="M617.8 462.2 L617.2 409.4 L621.0 409.5 L624.8 409.6 L628.6 409.9 L632.3 410.3 L636.1 410.8 L639.8 411.5 L643.4 412.2 L647.1 413.1 L650.7 414.1 L654.2 415.1 L657.6 416.3 L661.0 417.7 L664.4 419.1 L667.6 420.6 L670.7 422.2 L673.8 424.0 L676.7 425.8 L679.6 427.7 L682.3 429.8 L684.9 431.9 L687.4 434.1 L689.7 436.4 L691.9 438.8 L694.0 441.3 L695.9 443.8Z" fill="url(#pieShade)"/>
<path d="M604.8 464.2 L523.6 495.2 L525.9 507.3 L605.0 476.3Z" fill="#613c3c" stroke="#613c3c" stroke-width="0.4"/>
<path d="M518.8 483.0 L518.1 480.0 L520.5 492.1 L521.1 495.2Z" fill="#7a4b4b" stroke="#7a4b4b" stroke-width="0.8"/>
<path d="M519.6 486.1 L518.8 483.0 L521.1 495.2 L522.0 498.2Z" fill="#7a4b4b" stroke="#7a4b4b" stroke-width="0.8"/>
<path d="M520.7 489.2 L519.6 486.1 L522.0 498.2 L523.1 501.3Z" fill="#7a4b4b" stroke="#7a4b4b" stroke-width="0.8"/>
<path d="M522.0 492.2 L520.7 489.2 L523.1 501.3 L524.4 504.3Z" fill="#7a4b4b" stroke="#7a4b4b" stroke-width="0.8"/>
<path d="M523.6 495.2 L522.0 492.2 L524.4 504.3 L525.9 507.3Z" fill="#7a4b4b" stroke="#7a4b4b" stroke-width="0.8"/>
<path d="M604.8 464.2 L523.6 495.2 L522.0 492.2 L520.7 489.2 L519.6 486.1 L518.8 483.0 L518.1 480.0 L517.7 476.9 L517.5 473.8 L517.6 470.8 L517.8 467.7 L518.3 464.7 L518.9 461.8 L519.8 458.8 L520.9 456.0 L522.1 453.1 L523.6 450.4 L525.2 447.7 L526.9 445.1 L528.9 442.5 L531.0 440.1 L533.2 437.7 L535.6 435.4 L538.1 433.2 L540.8 431.0 L543.5 429.0 L546.4 427.1 L549.4 425.3 L552.5 423.6 L555.7 421.9 L558.9 420.4 L562.3 419.0 L565.7 417.7 L569.2 416.6 L572.7 415.5 L576.3 414.5 L580.0 413.7 L583.7 412.9 L587.4 412.3 L591.1 411.8 L594.9 411.4 L598.7 411.2 L602.5 411.0Z" fill="#cc7e7e" stroke="#a36464" stroke-width="0.6"/>
<path d="M604.8 464.2 L523.6 495.2 L522.0 492.2 L520.7 489.2 L519.6 486.1 L518.8 483.0 L518.1 480.0 L517.7 476.9 L517.5 473.8 L517.6 470.8 L517.8 467.7 L518.3 464.7 L518.9 461.8 L519.8 458.8 L520.9 456.0 L522.1 453.1 L523.6 450.4 L525.2 447.7 L526.9 445.1 L528.9 442.5 L531.0 440.1 L533.2 437.7 L535.6 435.4 L538.1 433.2 L540.8 431.0 L543.5 429.0 L546.4 427.1 L549.4 425.3 L552.5 423.6 L555.7 421.9 L558.9 420.4 L562.3 419.0 L565.7 417.7 L569.2 416.6 L572.7 415.5 L576.3 414.5 L580.0 413.7 L583.7 412.9 L587.4 412.3 L591.1 411.8 L594.9 411.4 L598.7 411.2 L602.5 411.0Z" fill="url(#pieShade)"/>
<path d="M701.0 448.9 L621.1 465.4 L620.9 477.5 L698.9 461.0Z" fill="#541818" stroke="#541818" stroke-width="0.4"/>
<path d="M621.1 465.4 L699.6 446.7 L700.3 447.8 L701.0 448.9Z" fill="#b03232" stroke="#8c2828" stroke-width="0.6"/>
<path d="M621.1 465.4 L699.6 446.7 L700.3 447.8 L701.0 448.9Z" fill="url(#pieShade)"/>
<path d="M709.4 475.2 L621.6 466.8 L621.3 478.9 L706.9 487.4Z" fill="#3d521c" stroke="#3d521c" stroke-width="0.4"/>
<path d="M621.6 466.8 L701.6 450.2 L703.2 452.8 L704.6 455.4 L705.8 458.1 L706.8 460.9 L707.7 463.7 L708.4 466.5 L708.9 469.4 L709.2 472.3 L709.4 475.2Z" fill="#80ac3c" stroke="#668930" stroke-width="0.6"/>
<path d="M621.6 466.8 L701.6 450.2 L703.2 452.8 L704.6 455.4 L705.8 458.1 L706.8 460.9 L707.7 463.7 L708.4 466.5 L708.9 469.4 L709.2 472.3 L709.4 475.2Z" fill="url(#pieShade)"/>
<path d="M709.5 480.3 L621.5 468.3 L621.3 480.5 L707.0 492.4Z" fill="#2d2346" stroke="#2d2346" stroke-width="0.4"/>
<path d="M621.5 468.3 L709.6 476.8 L709.6 478.6 L709.5 480.3Z" fill="#5e4a92" stroke="#4b3b74" stroke-width="0.6"/>
<path d="M621.5 468.3 L709.6 476.8 L709.6 478.6 L709.5 480.3Z" fill="url(#pieShade)"/>
<path d="M705.2 497.3 L621.2 469.3 L621.0 481.4 L702.8 509.4Z" fill="#184e60" stroke="#184e60" stroke-width="0.4"/>
<path d="M708.6 486.7 L708.0 489.3 L705.6 501.4 L706.2 498.8Z" fill="#1f6278" stroke="#1f6278" stroke-width="0.8"/>
<path d="M708.0 489.3 L707.3 492.0 L704.8 504.1 L705.6 501.4Z" fill="#1f6278" stroke="#1f6278" stroke-width="0.8"/>
<path d="M707.3 492.0 L706.3 494.6 L703.9 506.7 L704.8 504.1Z" fill="#1f6278" stroke="#1f6278" stroke-width="0.8"/>
<path d="M706.3 494.6 L705.2 497.3 L702.8 509.4 L703.9 506.7Z" fill="#1f6278" stroke="#1f6278" stroke-width="0.8"/>
<path d="M621.2 469.3 L709.3 481.3 L709.1 484.0 L708.6 486.7 L708.0 489.3 L707.3 492.0 L706.3 494.6 L705.2 497.3Z" fill="#34a4c8" stroke="#2983a0" stroke-width="0.6"/>
<path d="M621.2 469.3 L709.3 481.3 L709.1 484.0 L708.6 486.7 L708.0 489.3 L707.3 492.0 L706.3 494.6 L705.2 497.3Z" fill="url(#pieShade)"/>
<path d="M604.7 470.4 L522.3 502.1 L524.7 514.2 L604.9 482.5Z" fill="#5e7aa6" stroke="#5e7aa6" stroke-width="0.4"/>
<path d="M604.7 470.4 L522.3 502.1 L522.3 502.1 L522.3 502.1Z" fill="#6f90c4" stroke="#58739c" stroke-width="0.6"/>
<path d="M604.7 470.4 L522.3 502.1 L522.3 502.1 L522.3 502.1Z" fill="url(#pieShade)"/>
<path d="M697.2 502.2 L695.6 505.4 L693.4 517.4 L695.0 514.3Z" fill="#8e5219" stroke="#8e5219" stroke-width="0.8"/>
<path d="M695.6 505.4 L693.8 508.4 L691.6 520.5 L693.4 517.4Z" fill="#8e5219" stroke="#8e5219" stroke-width="0.8"/>
<path d="M532.3 509.0 L530.5 505.9 L532.6 518.0 L534.5 521.1Z" fill="#8e5219" stroke="#8e5219" stroke-width="0.8"/>
<path d="M693.8 508.4 L691.7 511.5 L689.6 523.5 L691.6 520.5Z" fill="#8e5219" stroke="#8e5219" stroke-width="0.8"/>
<path d="M534.5 512.0 L532.3 509.0 L534.5 521.1 L536.6 524.1Z" fill="#8e5219" stroke="#8e5219" stroke-width="0.8"/>
<path d="M691.7 511.5 L689.4 514.5 L687.3 526.5 L689.6 523.5Z" fill="#8e5219" stroke="#8e5219" stroke-width="0.8"/>
<path d="M536.8 515.0 L534.5 512.0 L536.6 524.1 L538.9 527.0Z" fill="#8e5219" stroke="#8e5219" stroke-width="0.8"/>
<path d="M689.4 514.5 L686.9 517.4 L684.8 529.4 L687.3 526.5Z" fill="#8e5219" stroke="#8e5219" stroke-width="0.8"/>
<path d="M539.4 517.9 L536.8 515.0 L538.9 527.0 L541.4 529.9Z" fill="#8e5219" stroke="#8e5219" stroke-width="0.8"/>
<path d="M686.9 517.4 L684.1 520.2 L682.1 532.2 L684.8 529.4Z" fill="#8e5219" stroke="#8e5219" stroke-width="0.8"/>
<path d="M542.2 520.7 L539.4 517.9 L541.4 529.9 L544.2 532.7Z" fill="#8e5219" stroke="#8e5219" stroke-width="0.8"/>
<path d="M684.1 520.2 L681.1 522.9 L679.2 534.9 L682.1 532.2Z" fill="#8e5219" stroke="#8e5219" stroke-width="0.8"/>
<path d="M545.3 523.4 L542.2 520.7 L544.2 532.7 L547.1 535.3Z" fill="#8e5219" stroke="#8e5219" stroke-width="0.8"/>
<path d="M681.1 522.9 L677.9 525.5 L676.1 537.4 L679.2 534.9Z" fill="#8e5219" stroke="#8e5219" stroke-width="0.8"/>
<path d="M548.5 526.0 L545.3 523.4 L547.1 535.3 L550.3 537.9Z" fill="#8e5219" stroke="#8e5219" stroke-width="0.8"/>
<path d="M677.9 525.5 L674.5 528.0 L672.7 539.9 L676.1 537.4Z" fill="#8e5219" stroke="#8e5219" stroke-width="0.8"/>
<path d="M552.0 528.4 L548.5 526.0 L550.3 537.9 L553.7 540.4Z" fill="#8e5219" stroke="#8e5219" stroke-width="0.8"/>
<path d="M674.5 528.0 L670.8 530.3 L669.2 542.3 L672.7 539.9Z" fill="#8e5219" stroke="#8e5219" stroke-width="0.8"/>
<path d="M555.7 530.8 L552.0 528.4 L553.7 540.4 L557.3 542.7Z" fill="#8e5219" stroke="#8e5219" stroke-width="0.8"/>
<path d="M670.8 530.3 L667.0 532.6 L665.5 544.5 L669.2 542.3Z" fill="#8e5219" stroke="#8e5219" stroke-width="0.8"/>
<path d="M559.5 532.9 L555.7 530.8 L557.3 542.7 L561.0 544.9Z" fill="#8e5219" stroke="#8e5219" stroke-width="0.8"/>
<path d="M667.0 532.6 L663.0 534.6 L661.6 546.5 L665.5 544.5Z" fill="#8e5219" stroke="#8e5219" stroke-width="0.8"/>
<path d="M563.6 535.0 L559.5 532.9 L561.0 544.9 L565.0 546.9Z" fill="#8e5219" stroke="#8e5219" stroke-width="0.8"/>
<path d="M663.0 534.6 L658.8 536.5 L657.5 548.4 L661.6 546.5Z" fill="#8e5219" stroke="#8e5219" stroke-width="0.8"/>
<path d="M567.8 536.9 L563.6 535.0 L565.0 546.9 L569.1 548.8Z" fill="#8e5219" stroke="#8e5219" stroke-width="0.8"/>
<path d="M658.8 536.5 L654.5 538.3 L653.3 550.2 L657.5 548.4Z" fill="#8e5219" stroke="#8e5219" stroke-width="0.8"/>
<path d="M572.2 538.6 L567.8 536.9 L569.1 548.8 L573.3 550.5Z" fill="#8e5219" stroke="#8e5219" stroke-width="0.8"/>
<path d="M654.5 538.3 L650.0 539.9 L648.9 551.7 L653.3 550.2Z" fill="#8e5219" stroke="#8e5219" stroke-width="0.8"/>
<path d="M576.7 540.2 L572.2 538.6 L573.3 550.5 L577.7 552.0Z" fill="#8e5219" stroke="#8e5219" stroke-width="0.8"/>
<path d="M650.0 539.9 L645.4 541.3 L644.5 553.1 L648.9 551.7Z" fill="#8e5219" stroke="#8e5219" stroke-width="0.8"/>
<path d="M581.3 541.5 L576.7 540.2 L577.7 552.0 L582.2 553.4Z" fill="#8e5219" stroke="#8e5219" stroke-width="0.8"/>
<path d="M645.4 541.3 L640.7 542.5 L639.9 554.3 L644.5 553.1Z" fill="#8e5219" stroke="#8e5219" stroke-width="0.8"/>
<path d="M586.0 542.7 L581.3 541.5 L582.2 553.4 L586.8 554.6Z" fill="#8e5219" stroke="#8e5219" stroke-width="0.8"/>
<path d="M640.7 542.5 L635.8 543.5 L635.2 555.4 L639.9 554.3Z" fill="#8e5219" stroke="#8e5219" stroke-width="0.8"/>
<path d="M590.9 543.7 L586.0 542.7 L586.8 554.6 L591.5 555.5Z" fill="#8e5219" stroke="#8e5219" stroke-width="0.8"/>
<path d="M635.8 543.5 L630.9 544.4 L630.4 556.2 L635.2 555.4Z" fill="#8e5219" stroke="#8e5219" stroke-width="0.8"/>
<path d="M595.8 544.5 L590.9 543.7 L591.5 555.5 L596.3 556.3Z" fill="#8e5219" stroke="#8e5219" stroke-width="0.8"/>
<path d="M630.9 544.4 L626.0 545.0 L625.6 556.8 L630.4 556.2Z" fill="#8e5219" stroke="#8e5219" stroke-width="0.8"/>
<path d="M600.8 545.1 L595.8 544.5 L596.3 556.3 L601.1 556.9Z" fill="#8e5219" stroke="#8e5219" stroke-width="0.8"/>
<path d="M626.0 545.0 L621.0 545.4 L620.7 557.2 L625.6 556.8Z" fill="#8e5219" stroke="#8e5219" stroke-width="0.8"/>
<path d="M605.8 545.5 L600.8 545.1 L601.1 556.9 L606.0 557.3Z" fill="#8e5219" stroke="#8e5219" stroke-width="0.8"/>
<path d="M621.0 545.4 L615.9 545.6 L615.8 557.5 L620.7 557.2Z" fill="#8e5219" stroke="#8e5219" stroke-width="0.8"/>
<path d="M610.8 545.7 L605.8 545.5 L606.0 557.3 L610.9 557.5Z" fill="#8e5219" stroke="#8e5219" stroke-width="0.8"/>
<path d="M615.9 545.6 L610.8 545.7 L610.9 557.5 L615.8 557.5Z" fill="#8e5219" stroke="#8e5219" stroke-width="0.8"/>
<path d="M612.9 473.7 L697.2 502.2 L695.6 505.4 L693.8 508.4 L691.7 511.5 L689.4 514.5 L686.9 517.4 L684.1 520.2 L681.1 522.9 L677.9 525.5 L674.5 528.0 L670.8 530.3 L667.0 532.6 L663.0 534.6 L658.8 536.5 L654.5 538.3 L650.0 539.9 L645.4 541.3 L640.7 542.5 L635.8 543.5 L630.9 544.4 L626.0 545.0 L621.0 545.4 L615.9 545.6 L610.8 545.7 L605.8 545.5 L600.8 545.1 L595.8 544.5 L590.9 543.7 L586.0 542.7 L581.3 541.5 L576.7 540.2 L572.2 538.6 L567.8 536.9 L563.6 535.0 L559.5 532.9 L555.7 530.8 L552.0 528.4 L548.5 526.0 L545.3 523.4 L542.2 520.7 L539.4 517.9 L536.8 515.0 L534.5 512.0 L532.3 509.0 L530.5 505.9Z" fill="#ee8a2a" stroke="#be6e21" stroke-width="0.6"/>
<path d="M612.9 473.7 L697.2 502.2 L695.6 505.4 L693.8 508.4 L691.7 511.5 L689.4 514.5 L686.9 517.4 L684.1 520.2 L681.1 522.9 L677.9 525.5 L674.5 528.0 L670.8 530.3 L667.0 532.6 L663.0 534.6 L658.8 536.5 L654.5 538.3 L650.0 539.9 L645.4 541.3 L640.7 542.5 L635.8 543.5 L630.9 544.4 L626.0 545.0 L621.0 545.4 L615.9 545.6 L610.8 545.7 L605.8 545.5 L600.8 545.1 L595.8 544.5 L590.9 543.7 L586.0 542.7 L581.3 541.5 L576.7 540.2 L572.2 538.6 L567.8 536.9 L563.6 535.0 L559.5 532.9 L555.7 530.8 L552.0 528.4 L548.5 526.0 L545.3 523.4 L542.2 520.7 L539.4 517.9 L536.8 515.0 L534.5 512.0 L532.3 509.0 L530.5 505.9Z" fill="url(#pieShade)"/>
<text x="608.7" y="403.7" font-size="12" text-anchor="middle" fill="#333" font-weight="normal" >0.67%</text>
<text x="605.0" y="427.8" font-size="12" text-anchor="middle" fill="#4a2020" font-weight="normal" >0.00%</text>
<text x="648.8" y="440.1" font-size="12" text-anchor="middle" fill="#1a2a4a" font-weight="normal" >19.79%</text>
<text x="708.4" y="419.6" font-size="12" text-anchor="middle" fill="#333" font-weight="normal" >0.63%</text>
<text x="726.4" y="465.6" font-size="12" text-anchor="middle" fill="#333" font-weight="normal" >6.75%</text>
<text x="722.7" y="512.5" font-size="12" text-anchor="middle" fill="#333" font-weight="normal" >0.89%</text>
<text x="720.8" y="532.0" font-size="12" text-anchor="middle" fill="#333" font-weight="normal" >4.02%</text>
<text x="614.3" y="533.1" font-size="12" text-anchor="middle" fill="#4a2008" font-weight="normal" >34.90%</text>
<text x="500.6" y="530.5" font-size="12" text-anchor="middle" fill="#333" font-weight="normal" >0.00%</text>
<text x="555.0" y="454.3" font-size="12" text-anchor="middle" fill="#5a1a1a" font-weight="normal" >32.35%</text>
<line x1="700.8" y1="420" x2="700.8" y2="447" stroke="#333" stroke-width="1"/>
<line x1="704" y1="498" x2="704" y2="516" stroke="#333" stroke-width="1"/>
<rect x="751" y="389.4" width="7.4" height="7.4" fill="#3c6db4" stroke="#555" stroke-width="0.3"/>
<text x="761.9" y="397.4" font-size="12" text-anchor="start" fill="#333" font-weight="normal" >RU</text>
<rect x="751" y="412.0" width="7.4" height="7.4" fill="#b03232" stroke="#555" stroke-width="0.3"/>
<text x="761.9" y="420.0" font-size="12" text-anchor="start" fill="#333" font-weight="normal" >JM</text>
<rect x="751" y="434.6" width="7.4" height="7.4" fill="#80ac3c" stroke="#555" stroke-width="0.3"/>
<text x="761.9" y="442.6" font-size="12" text-anchor="start" fill="#333" font-weight="normal" >RM</text>
<rect x="751" y="457.2" width="7.4" height="7.4" fill="#5e4a92" stroke="#555" stroke-width="0.3"/>
<text x="761.9" y="465.2" font-size="12" text-anchor="start" fill="#333" font-weight="normal" >J</text>
<rect x="751" y="479.8" width="7.4" height="7.4" fill="#34a4c8" stroke="#555" stroke-width="0.3"/>
<text x="761.9" y="487.8" font-size="12" text-anchor="start" fill="#333" font-weight="normal" >I</text>
<rect x="751" y="502.4" width="7.4" height="7.4" fill="#ee8a2a" stroke="#555" stroke-width="0.3"/>
<text x="761.9" y="510.4" font-size="12" text-anchor="start" fill="#333" font-weight="normal" >RB</text>
<rect x="751" y="525.0" width="7.4" height="7.4" fill="#6f90c4" stroke="#555" stroke-width="0.3"/>
<text x="761.9" y="533.0" font-size="12" text-anchor="start" fill="#333" font-weight="normal" >BB</text>
<rect x="751" y="547.6" width="7.4" height="7.4" fill="#cc7e7e" stroke="#555" stroke-width="0.3"/>
<text x="761.9" y="555.6" font-size="12" text-anchor="start" fill="#333" font-weight="normal" >M</text>
<rect x="751" y="570.2" width="7.4" height="7.4" fill="#a8aa70" stroke="#555" stroke-width="0.3"/>
<text x="761.9" y="578.2" font-size="12" text-anchor="start" fill="#333" font-weight="normal" >FB</text>
<text x="348.5" y="44.4" font-size="19" text-anchor="start" fill="#222" font-weight="normal" >活跃商品主力合约资金流向分析</text>
<text x="223.3" y="84.0" font-size="19" text-anchor="start" fill="#222" font-weight="normal" >当日资金净流量与涨跌幅</text>
<text x="525.0" y="84.0" font-size="19" text-anchor="start" fill="#222" font-weight="normal" >当日资金净流量与总保证金</text>
<text x="223.5" y="354.4" font-size="19" text-anchor="start" fill="#222" font-weight="normal" >五日累计净流量与涨跌幅</text>
<text x="569.2" y="355.0" font-size="19" text-anchor="start" fill="#222" font-weight="normal" >各品种总保证金</text>
</svg>
<div class="t" style="left:576px;top:611px;font-size:19px;font-weight:bold;color:#111;letter-spacing:1.3px">中天观势交易团队</div>
<div class="t" style="left:556.7px;top:647px;font-size:19px;color:#111"><b>日期</b>：<span style="letter-spacing:1.3px">2020年11月2日</span></div>
<svg class="abs" style="left:0;top:620px" width="62" height="66" viewBox="0 620 62 66">
<g transform="translate(31.5 653.4) rotate(45)">
<g fill="none" stroke="#d21a1a" stroke-width="3.3"><rect x="-17.30" y="-17.30" width="9.40" height="9.40"/><rect x="-4.70" y="-17.30" width="9.40" height="9.40"/><rect x="7.90" y="-17.30" width="9.40" height="9.40"/><rect x="-17.30" y="-4.70" width="9.40" height="9.40"/><rect x="7.90" y="-4.70" width="9.40" height="9.40"/><rect x="-17.30" y="7.90" width="9.40" height="9.40"/><rect x="-4.70" y="7.90" width="9.40" height="9.40"/><rect x="7.90" y="7.90" width="9.40" height="9.40"/></g>
<g fill="#d21a1a"><rect x="-6.3" y="-1.6" width="8" height="3.2"/><rect x="-1.6" y="-1.7" width="3.2" height="8"/></g>
<g fill="#ead5a2"><rect x="-5" y="-7.9" width="1.2" height="3.2"/><rect x="3.8" y="4.7" width="1.2" height="3.2"/><rect x="-7.9" y="3.8" width="3.2" height="1.2"/><rect x="4.7" y="-5" width="3.2" height="1.2"/></g>
</g></svg>
<div class="t" style="left:63px;top:631px;font-size:23px;font-weight:900;color:#111;-webkit-text-stroke:0.7px #111;letter-spacing:-0.3px;top:632px">中天期货</div>
<div class="t" style="left:64px;top:665px;font-size:9px;font-weight:bold;color:#1a1a1a;letter-spacing:-0.7px;word-spacing:2.5px">ZHONGTIAN FUTURES</div>
</body></html>
